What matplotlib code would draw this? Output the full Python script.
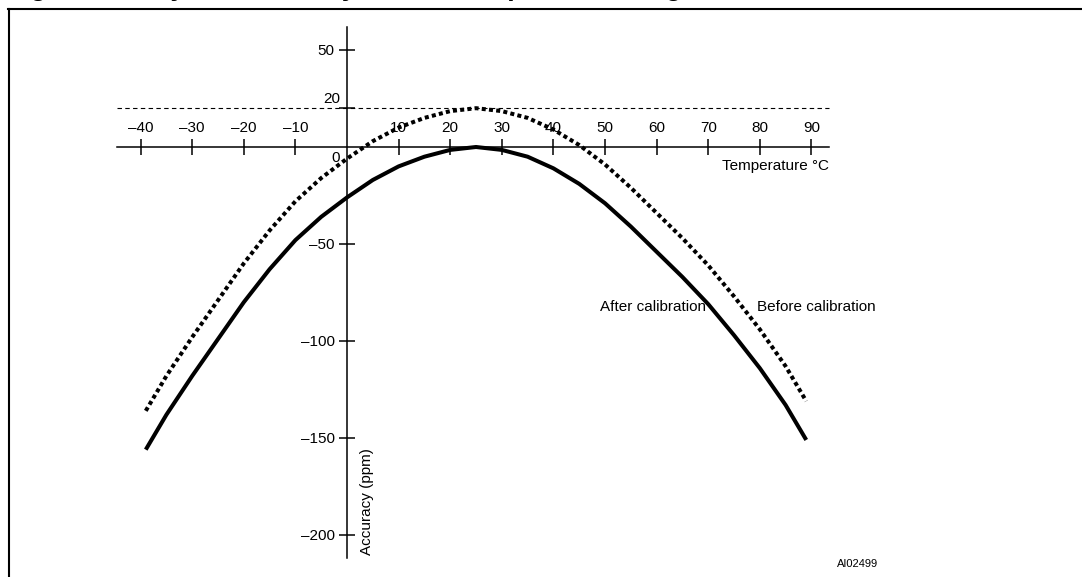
import matplotlib
matplotlib.use("Agg")
import matplotlib.pyplot as plt
from matplotlib.lines import Line2D

plt.rcParams['font.family'] = ['Liberation Sans', 'DejaVu Sans']

# temperature (deg C) and accuracy (ppm)
temps = [-39, -35, -30, -25, -20, -15, -10, -5, 0, 5, 10, 15, 20, 25, 30, 35, 40, 45,
         50, 55, 60, 65, 70, 75, 80, 85, 89]
after_cal = [-156, -138, -118, -99, -80, -63, -48, -36, -26, -17, -10, -5, -1.5, 0, -1.5,
             -5, -11, -19, -29, -41, -54, -67, -81, -97, -114, -133, -151]
before_cal = [v + 20 for v in after_cal]

x_ticks = [-40, -30, -20, -10, 10, 20, 30, 40, 50, 60, 70, 80, 90]
y_ticks = [50, 20, -50, -100, -150, -200]
limit_ppm = 20

fig = plt.figure(figsize=(10.82, 5.77), dpi=100)
ax = fig.add_axes([0, 0, 1, 1])
ax.set_xlim(-67.25, 142.44)
ax.set_ylim(-221.65, 75.77)

# axes through the origin
for s in ['bottom', 'right']:
    ax.spines[s].set_visible(False)
ax.spines['left'].set_position(('data', 0))
ax.spines['top'].set_position(('data', 0))
ax.spines['left'].set_bounds(-212, 62)
ax.spines['top'].set_bounds(-44.5, 93.5)
ax.spines['left'].set_linewidth(1.1)
ax.spines['top'].set_linewidth(1.1)
ax.xaxis.set_ticks_position('top')
ax.yaxis.set_ticks_position('left')
ax.set_xticks(x_ticks)
ax.set_yticks(y_ticks)
ax.set_xticklabels([str(t).replace('-', '\u2013') for t in x_ticks])
# the 20 label sits above the dashed limit line, drawn separately
ax.set_yticklabels(['' if t == limit_ppm else str(t).replace('-', '\u2013') for t in y_ticks])
ax.tick_params(axis='x', direction='inout', length=11, width=1.1, pad=3, labelsize=11)
ax.tick_params(axis='y', direction='inout', length=12, width=1.1, pad=3, labelsize=11)
ax.text(-1.4, -5.7, '0', ha='right', va='center', fontsize=11)
ax.text(-1.4, 24.7, str(limit_ppm), ha='right', va='center', fontsize=11)

ax.plot([-44.5, 93.5], [limit_ppm, limit_ppm], color='black', lw=0.8,
        linestyle=(0, (4, 3)))

ax.plot(temps, after_cal, color='black', lw=2.9, solid_capstyle='butt')
ax.plot(temps, before_cal, color='black', lw=2.9, linestyle=(0, (1, 0.8)),
        dash_capstyle='butt')

ax.text(93.5, -9.9, 'Temperature \u00b0C', ha='right', va='center', fontsize=11)
ax.text(3.8, -183, 'Accuracy (ppm)', rotation=90, ha='center', va='center', fontsize=11)
ax.text(69.5, -82.5, 'After calibration', ha='right', va='center', fontsize=11)
ax.text(79.5, -82.5, 'Before calibration', ha='left', va='center', fontsize=11)
ax.text(103.0, -214.9, 'AI02499', ha='right', va='center', fontsize=8)

# outer frame (left and top only visible) and the caption, cut off by the top edge
fig.add_artist(Line2D([8.5 / 1082, 8.5 / 1082], [0, 1 - 9 / 577], color='black', lw=1.5))
fig.add_artist(Line2D([7.5 / 1082, 1], [1 - 9 / 577, 1 - 9 / 577], color='black', lw=1.5))
fig.text(6 / 1082, 1 + 5 / 577, 'Figure 11. Crystal accuracy across temperature range',
         fontsize=19.5, fontweight='bold', va='baseline', ha='left')

fig.savefig('out.png', dpi=100)
